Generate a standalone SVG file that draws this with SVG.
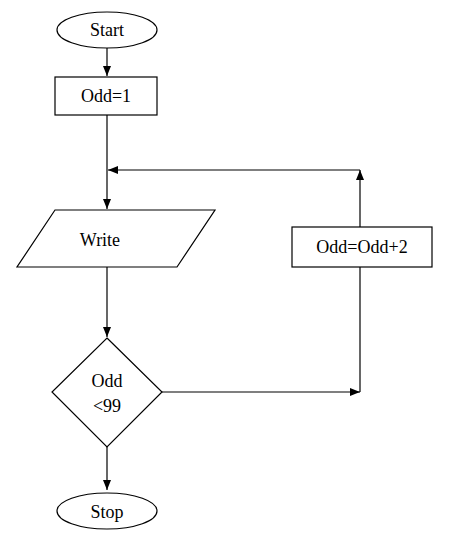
<svg xmlns="http://www.w3.org/2000/svg" width="453" height="534" viewBox="0 0 453 534">
<defs>
<marker id="ah" markerWidth="10" markerHeight="8" refX="10" refY="4" orient="auto" markerUnits="userSpaceOnUse">
<path d="M0,0 L10,4 L0,8 Z" fill="#000"/>
</marker>
<style>
.s{fill:#fff;stroke:#000;stroke-width:1.2}
.t{font-family:"Liberation Serif","Times New Roman",serif;font-size:18px;fill:#000;text-anchor:middle}
.c{fill:none;stroke:#000;stroke-width:1.2}
</style>
</defs>
<rect width="453" height="534" fill="#fff"/>
<g id="connectors">
<line class="c" x1="107" y1="48" x2="107" y2="76" marker-end="url(#ah)"/>
<line class="c" x1="107" y1="115" x2="107" y2="209" marker-end="url(#ah)"/>
<line class="c" x1="107" y1="267" x2="107" y2="337" marker-end="url(#ah)"/>
<line class="c" x1="107" y1="447" x2="107" y2="490" marker-end="url(#ah)"/>
<line class="c" x1="162" y1="392" x2="360" y2="392" marker-end="url(#ah)"/>
<line class="c" x1="360" y1="392" x2="360" y2="267"/>
<line class="c" x1="360" y1="227" x2="360" y2="170" marker-end="url(#ah)"/>
<line class="c" x1="360" y1="170" x2="108" y2="170" marker-end="url(#ah)"/>
</g>
<g id="start"><ellipse class="s" cx="107" cy="30" rx="50" ry="18"/><text class="t" x="107" y="36">Start</text></g>
<g id="init"><rect class="s" x="55" y="77" width="102" height="38"/><text class="t" x="106" y="102">Odd=1</text></g>
<g id="write"><polygon class="s" points="55,210 215,210 177,267 17,267"/><text class="t" x="100" y="246">Write</text></g>
<g id="cond"><polygon class="s" points="107,338 162,392 107,447 52,392"/><text class="t" x="107" y="387">Odd</text><text class="t" x="107" y="412">&lt;99</text></g>
<g id="inc"><rect class="s" x="292" y="227" width="140" height="40"/><text class="t" x="362" y="253">Odd=Odd+2</text></g>
<g id="stop"><ellipse class="s" cx="107" cy="511" rx="50" ry="18"/><text class="t" x="107" y="518">Stop</text></g>
</svg>
